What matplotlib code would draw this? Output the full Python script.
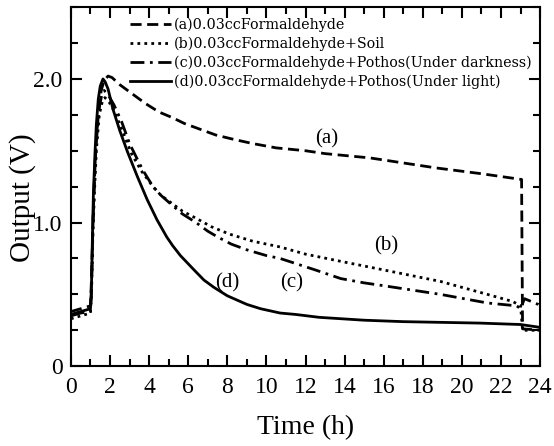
import matplotlib
matplotlib.use("Agg")
import matplotlib.pyplot as plt
from matplotlib.ticker import MultipleLocator, FixedLocator

plt.rcParams['font.family'] = ['Liberation Serif', 'DejaVu Serif']

# (a) 0.03cc Formaldehyde
t_a = [0, 0.5, 1.0, 1.05, 1.15, 1.25, 1.4, 1.55, 1.7, 1.9, 2.1, 2.5, 2.9, 3.3, 3.8, 4.5, 5.2, 5.8, 6.6, 7.4, 8.3,
       9.3, 10.5, 12, 13, 15.3, 18.7, 21, 23.05, 23.1, 24]
v_a = [0.38, 0.40, 0.42, 0.6, 1.1, 1.45, 1.75, 1.92, 1.99, 2.02, 2.01, 1.96, 1.92, 1.88, 1.83, 1.77, 1.73, 1.69, 1.65, 1.61, 1.58,
       1.55, 1.52, 1.50, 1.48, 1.45, 1.38, 1.34, 1.30, 0.26, 0.25]
# (b) + Soil
t_b = [0, 0.5, 1.0, 1.05, 1.12, 1.2, 1.3, 1.45, 1.6, 1.74, 1.95, 2.2, 2.6, 3.1, 3.6, 4.2, 4.6, 5.1, 5.7, 6.4, 7.2, 8.1,
       9.3, 10.7, 12, 13.8, 16, 18.9, 21.3, 22.6, 23.0, 23.1, 24]
v_b = [0.33, 0.35, 0.37, 0.5, 0.9, 1.2, 1.5, 1.75, 1.84, 1.87, 1.84, 1.78, 1.65, 1.48, 1.36, 1.25, 1.19, 1.14, 1.08, 1.03, 0.97, 0.92,
       0.87, 0.83, 0.78, 0.73, 0.67, 0.59, 0.50, 0.45, 0.42, 0.25, 0.25]
# (c) + Pothos (under darkness)
t_c = [0, 0.5, 1.0, 1.05, 1.12, 1.2, 1.3, 1.45, 1.58, 1.7, 1.9, 2.2, 2.6, 3.0, 3.4, 3.7, 4.2, 4.6, 5.1, 5.7, 6.4, 7.0,
       7.5, 8.2, 9.0, 10.0, 10.7, 11.6, 12.5, 13.8, 15, 16, 18.9, 21.3, 22.8, 23.0, 23.2, 23.9, 24]
v_c = [0.35, 0.37, 0.38, 0.5, 0.95, 1.3, 1.6, 1.8, 1.89, 1.92, 1.89, 1.82, 1.70, 1.55, 1.44, 1.36, 1.25, 1.19, 1.13, 1.06, 1.0, 0.94,
       0.90, 0.85, 0.81, 0.77, 0.75, 0.71, 0.67, 0.61, 0.58, 0.56, 0.50, 0.44, 0.42, 0.40, 0.47, 0.43, 0.42]
# (d) + Pothos (under light)
t_d = [0, 0.5, 1.0, 1.05, 1.1, 1.15, 1.23, 1.3, 1.4, 1.5, 1.64, 1.75, 1.9, 2.15, 2.5, 2.9, 3.4, 3.9, 4.4, 4.9, 5.2,
       5.6, 6.3, 6.8, 7.3, 8.0, 9.0, 9.7, 10.7, 11.5, 12.7, 15, 17, 20.9, 23, 24]
v_d = [0.36, 0.38, 0.40, 0.55, 0.9, 1.2, 1.48, 1.68, 1.86, 1.95, 2.0, 1.98, 1.93, 1.79, 1.64, 1.49, 1.32, 1.16, 1.02, 0.90, 0.84,
       0.77, 0.67, 0.60, 0.55, 0.49, 0.43, 0.40, 0.37, 0.36, 0.34, 0.32, 0.31, 0.30, 0.29, 0.27]

labels = ["(a)0.03ccFormaldehyde",
          "(b)0.03ccFormaldehyde+Soil",
          "(c)0.03ccFormaldehyde+Pothos(Under darkness)",
          "(d)0.03ccFormaldehyde+Pothos(Under light)"]
curve_tags = ["(a)", "(b)", "(c)", "(d)"]
tag_pos = [(13.1, 1.58), (16.1, 0.84), (11.3, 0.58), (8.0, 0.58)]

x_major = list(range(0, 25, 2))
y_major = [0, 1.0, 2.0]
y_major_labels = ["0", "1.0", "2.0"]

fig = plt.figure(figsize=(5.54, 4.46), dpi=100)
ax = fig.add_axes([0.128, 0.179, 0.847, 0.805])

lw = 2.0
ax.plot(t_a, v_a, color='black', lw=lw, linestyle=(0, (4, 2)), label=labels[0])
ax.plot(t_b, v_b, color='black', lw=lw, linestyle=(0, (1, 1.5)), label=labels[1])
ax.plot(t_c, v_c, color='black', lw=lw, linestyle=(0, (5, 2, 1, 2)), label=labels[2])
ax.plot(t_d, v_d, color='black', lw=lw, linestyle='-', label=labels[3])

for tag, (x, y) in zip(curve_tags, tag_pos):
    ax.text(x, y, tag, fontsize=15, ha='center', va='center')

ax.set_xlim(0, 24)
ax.set_ylim(0, 2.5)
ax.xaxis.set_major_locator(FixedLocator(x_major))
ax.xaxis.set_minor_locator(MultipleLocator(1))
ax.yaxis.set_major_locator(FixedLocator(y_major))
ax.set_yticklabels(y_major_labels)
ax.yaxis.set_minor_locator(MultipleLocator(0.25))
ax.tick_params(which='both', direction='in', top=True, right=True, width=1.5, labelsize=17)
ax.tick_params(which='major', length=8)
ax.tick_params(which='minor', length=5)
ax.tick_params(axis='x', pad=8)
ax.tick_params(axis='y', pad=6)
for s in ax.spines.values():
    s.set_linewidth(1.5)

ax.set_xlabel("Time (h)", fontsize=20, labelpad=12)
ax.set_ylabel("Output (V)", fontsize=21)
ax.yaxis.set_label_coords(-0.075, 0.47)

leg = ax.legend(loc='upper left', bbox_to_anchor=(0.125, 0.972), frameon=False,
                prop={'family': 'DejaVu Serif', 'size': 10.3},
                handlelength=2.9, handletextpad=0.2, labelspacing=0.33,
                borderpad=0, borderaxespad=0)

fig.savefig("out.png", dpi=100)
